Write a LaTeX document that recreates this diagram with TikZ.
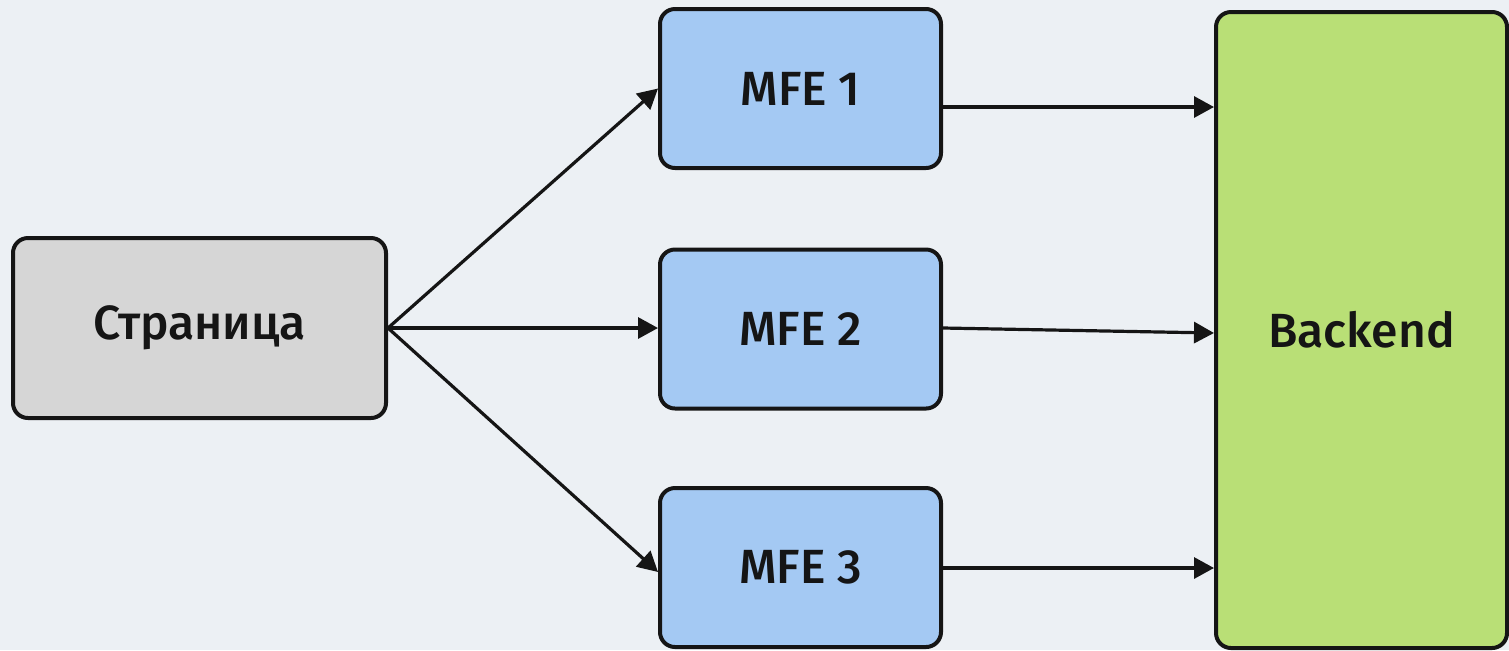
\documentclass[tikz,border=0pt]{standalone}
\usepackage{fontspec}
\setmainfont{Fira Sans}
\newfontfamily\labelfont{Fira Sans Medium}
\usetikzlibrary{arrows.meta,calc}
\definecolor{bgcol}{HTML}{ECF0F4}
\definecolor{pagefill}{HTML}{D6D6D6}
\definecolor{mfefill}{HTML}{A4C9F3}
\definecolor{backfill}{HTML}{B9DF76}
\definecolor{inkcol}{HTML}{151515}
\tikzset{
  box/.style={draw=inkcol, line width=2pt, rounded corners=7.5pt, inner sep=0pt,
              font=\labelfont\fontsize{24}{28}\selectfont, text=inkcol},
  pagebox/.style={box, fill=pagefill, minimum width=186.5pt, minimum height=90pt},
  mfebox/.style={box, fill=mfefill, minimum width=140.5pt, minimum height=79.5pt},
  backbox/.style={box, fill=backfill, minimum width=145.5pt, minimum height=318pt},
  link/.style={draw=inkcol, line width=1.6pt, -{Triangle[length=10pt,width=10.5pt]}}
}
\begin{document}
\begin{tikzpicture}[x=0.5pt, y=-0.5pt]
  % canvas
  \fill[bgcol] (0,0) rectangle (1509,650);
  \useasboundingbox (0,0) rectangle (1509,650);

  % boxes
  \node[pagebox] (page) at (199.5,328) {Страница};
  \node[mfebox] (mfe1) at (800.5,88.5) {MFE 1};
  \node[mfebox] (mfe2) at (800.5,329) {MFE 2};
  \node[mfebox] (mfe3) at (800.5,567.5) {MFE 3};
  \node[backbox] (back) at (1361.5,330) {Backend};

  % page to micro-frontends
  \draw[link] (page.east) -- (mfe1.west);
  \draw[link] (page.east) -- ($(mfe2.west)+(0,-1)$);
  \draw[link] (page.east) -- ($(mfe3.west)+(0,4.5)$);

  % micro-frontends to backend
  \draw[link] ($(mfe1.east)+(0,18.5)$) -- ($(mfe1.east -| back.west)+(0,18.5)$);
  \draw[link] ($(mfe2.east)+(0,-1)$) -- ($(mfe2.east -| back.west)+(0,4)$);
  \draw[link] ($(mfe3.east)+(0,0.5)$) -- ($(mfe3.east -| back.west)+(0,0.5)$);
\end{tikzpicture}
\end{document}
